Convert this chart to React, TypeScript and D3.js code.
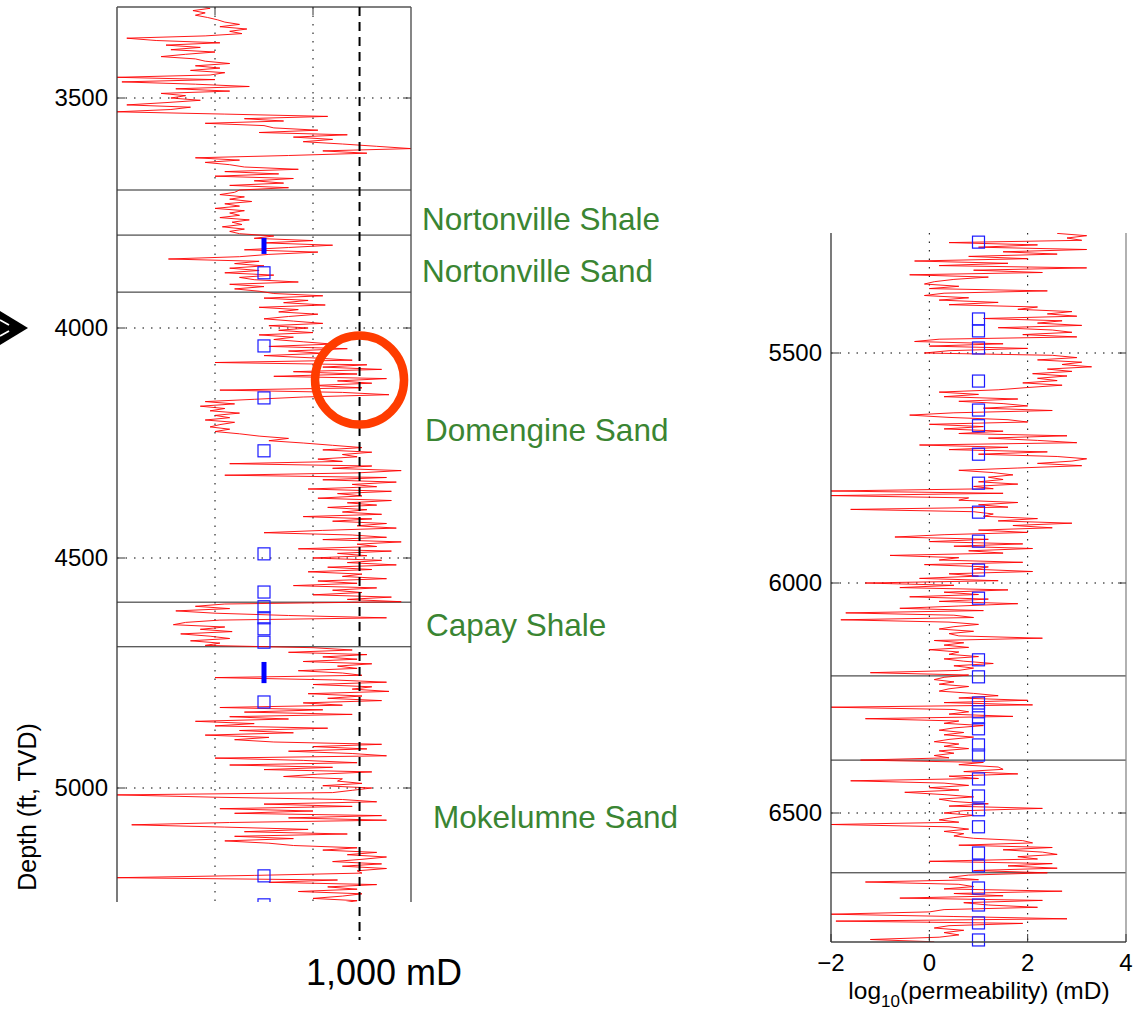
import * as d3 from "d3";

// log samples are every STEP ft, each zone array starts at its top depth
const STEP = 5;

// ---- left well (log10 permeability, mD) ----
const upperTop = 3300;
const upperLogK = [
  -0.3, -0.1, -0.45, -0.2, -0.4, -0.15, 0.05,
  0.2, 0.5, 0.1, 0.65, 0.3, 0.55,
  -0.2, -1.8, -1.2, 0.1,
  -1.0, -0.3, -0.9, 0.0, -0.6, -1.1, -0.4,
  -0.2, 0.3, -0.4, 0.1, -0.5, 0.2, -0.1,
  -2.0, 0.0, -1.9,
  -0.4, 0.7, -0.8, 0.3, -1.1,
  -0.6, -0.9, -0.3, -1.0, -1.8, -0.5, -0.9, -2.0,
  0.2, 2.3, 0.6, 1.4, -0.2, 1.0,
  1.2, 2.1, 0.9, 2.7, 1.6, 2.4, 1.8,
  2.6, 3.3, 4.0, 2.2, 3.1,
  1.5, -0.4, 0.5, -0.2, 0.3,
  0.6, 1.7, 0.2, 1.3, 0.0, 1.6, 0.8, 1.4,
  0.3, 1.5, 0.5,
];
const nortonShaleTop = 3705;
const nortonShaleLogK = [
  0.4, 0.1, 0.6, 0.3, 0.75, 0.2, 0.5, 0.0, 0.6, 0.3, 0.5, 0.1, 0.7, 0.35, 0.55,
  0.15, 0.6, 0.3, 0.5,
];
const nortonSandTop = 3800;
const nortonSandLogK = [
  1.2, 0.8, 2.0, 1.0, 2.4, 1.5, 0.6, 2.1, 1.1, 0.5, -0.95, 0.9, 0.4, 1.0, 0.3,
  0.9, 0.2, 1.2, 0.5, 0.8, 1.7, 0.3, 1.0, 0.4, 0.9,
];
const domengineTop = 3925;
const domengineLogK = [
  1.2, 2.2, 1.0, 1.9, 1.4, 2.25, 0.9, 1.7, 1.3, 2.1, 1.5, 1.0,
  1.6, 2.2, 1.1, 1.9, 1.3, 2.0, 0.9, 1.6, 1.2,
  1.8, 2.4, 1.1, 2.7, 1.5, 2.2, 1.0,
  2.0, 2.8, 0.0, 3.1, 2.2, 3.4, 1.6, 2.9, 1.2, 3.5, 2.5, 3.2, 2.0, 3.0, 0.1, 2.6, 3.55, 1.8, 0.8,
  -0.2, 0.4, -0.3, 0.2, -0.1, 0.5, 0.0, 0.3, -0.2, 0.4, 0.1, -0.1, 0.3, 0.0, 0.5,
  0.9, 1.5, 1.1, 1.8,
  2.4, 3.0, 2.2, 3.2, 2.6, 2.9, 2.1,
  2.6, 0.3, 3.2, 2.4, 3.8, 2.9, 0.2, 3.5, 2.2, 3.7, 2.8, 3.3, 1.9, 3.6, 2.5, 3.0,
  2.1, 3.6, 2.7, 3.3, 2.3, 3.1, 2.6, 3.4, 1.8, 3.2, 2.4, 3.5, 2.9, 3.7, 2.2, 1.0,
  2.8, 3.5, 2.2, 3.8, 2.9, 3.3, 1.7, 3.6, 2.5, 3.1, 2.0, 3.4, 2.7, 3.7, 2.3,
  3.2, 1.9, 3.0, 2.6, 3.5, 2.1, 2.9, 1.6, 3.3, 2.4, 3.0, 2.0, 3.6, 2.7, 3.8,
];
const capayTop = 4600;
const capayLogK = [
  0.2, -0.4, 0.3, -0.8, 0.0, 1.5, 3.5, 0.1, -0.6, -0.85, 0.2, -0.3, 0.35, -0.7,
  -0.1, 0.3, -0.5, 0.1, -0.2,
];
const mokelumneTop = 4695;
const mokelumneLogK = [
  2.0, 2.8, 1.5, 3.1, 2.2, 2.9, 1.8, 3.2, 2.5, 2.9, 1.7, 2.6, 3.0,
  0.0,
  2.4, 3.5, 2.0, 3.2, 2.8, 3.55, 1.9, 3.0, 2.3, 3.4, 1.8, 2.6,
  0.1, 2.2, 0.6, 2.8, 0.3, 1.5,
  -0.4, 0.8, 0.0, 2.3, 0.5, 1.6, -0.2, 1.1, 0.4,
  1.2, 3.4, 2.0, 3.1, 1.5, 2.8, 3.5,
  0.0, 1.8, 2.9, 0.3, 2.4, 1.0, 3.2, 2.1, 1.4, 2.6,
  2.5, 3.0, 2.2, 3.2, 2.8, 2.4,
  -2.0,
  0.0, 2.6, 3.3, 1.0, 2.8,
  0.1, 2.0, 0.4, 3.4, 1.5, 3.5,
  0.3, -1.7,
  0.2, 1.9, 0.6, 2.7, 0.4, 1.6, 0.2, 1.1,
  1.6, 2.9, 2.2, 3.3, 2.7, 3.5, 3.0, 2.4, 3.4, 2.6, 3.5, 2.9,
  3.0, 0.8, -2.0, 2.5,
  1.1, 3.3, 2.3, 2.9, 1.7, 3.0, 2.6, 2.0, 2.9, 2.6,
];

// ---- right well ----
const rightATop = 5240;
const rightALogK = [
  2.6, 3.2, 2.8, 3.1,
  0.4, 2.2, 1.0, 3.2, 1.5, 2.6, 0.8, 2.0,
  -0.3, 1.6, 0.2, 3.2, 0.9, 2.3, -0.4, 1.2, 0.5,
  0.1, -0.1, 0.6, 0.0, 2.4, 0.3, -0.1, 0.8, 0.2, 1.4, 0.4, 2.2,
  1.8, 2.9, 2.4, 3.0, 1.1, 2.7, 2.2, 3.1, 1.4, 2.5, 2.9, 1.9, 3.0,
  0.2, -0.3, 1.5, 0.0, 2.0, 0.4, -0.1,
  2.5, 3.0, 2.2, 3.1, 2.7, 3.3, 2.4, 2.9, 2.1, 2.8,
  2.2, 2.6, 1.9, 2.7, 2.0, 1.4, 0.2,
  1.0, 0.3, 1.8, 0.6, 1.5, 2.0, 1.1, 2.5, 0.5,
  -0.4, 0.4, 1.6,
  2.0, 0.0, 1.1, 0.3, 1.5, 0.6, 2.8, 1.2, 2.2, 3.0, -0.2, 1.6, 0.4, 2.4,
  1.0, 2.6, 3.2, 2.9, 2.2, 3.1, 1.8, 0.6, 1.3,
  1.7, 1.2, 1.5, 1.0, 1.8, 0.9, 1.3,
  -2.0, 1.5, -2.0, 0.8,
  0.6, 1.8, 1.0, 1.6, -1.6, 0.9, 1.3,
  1.1, 2.2, 1.4, 2.9, 1.7, 2.5, 1.0, 2.0,
  0.3, -0.7, 1.2, 0.0, 1.9, 0.5, 2.1, 0.8, 1.5,
  -0.8, 0.6, 0.2, 1.9, -0.1, 1.2, 0.9, 2.1, 0.4, 1.0, -0.2, 1.4,
  -1.3, 0.5, -0.6, 1.6, 0.3, 1.0, -0.4, 1.2,
  0.2, 1.8, 0.6, -0.6, 1.1,
  -1.7, 0.5, 0.9, -1.8, 0.4, 1.0,
  0.5, 0.2, 0.9, 0.4, 0.6, 2.3, 0.1, 0.7, 0.3, 0.8, 0.0, 0.6, 0.4, 1.0, 0.3,
  0.7, 1.3, 0.5, 0.9, 0.6, -1.2,
  0.8,
];
const rightBTop = 6205;
const rightBLogK = [
  0.3, 0.1, 0.5, 0.2, 0.8, 0.4, 0.2, 0.9, 1.4, 0.6, 2.0, 0.3, 2.1, -2.0, 0.5,
  0.8, 0.4, 1.7, -1.3, 0.6, 0.3, 1.1, 0.5, 0.2, 0.7, 0.3, 0.9, 0.4, 0.1, 0.6,
  0.3, 0.8, 0.2, 0.5, 0.1, 0.4, -1.4,
];
const rightCTop = 6390;
const rightCLogK = [
  1.1, 0.6, 1.4, 1.5, 0.7, 1.8, 0.4, 1.0, -1.6, 0.3, 0.8, 0.0, 0.6, -0.5, 0.3,
  0.9, 0.2, 0.5, 1.2, 0.4, 2.3, 0.7, 0.3, 0.9, 0.5, 0.2, 0.6, -2.0, 0.4, 0.8,
  0.3, 0.7, 0.5, 0.9, 1.9, 2.1, 0.6, 2.5, 1.5, 2.3, 2.6, 1.8, 2.2, 0.0, 2.5,
  1.6, 2.6, 0.9, 2.4,
];
const rightDTop = 6635;
const rightDLogK = [
  0.8, 0.4, 1.0, -1.3, 0.6, 0.9, 0.3, 2.7, 0.5, 1.5, -0.6, 2.3, 0.7, 1.2, 2.2,
  0.3, 0.0, -2.0, 0.5, 2.8, -1.9, 1.9, 0.4, 0.1, 0.7, 0.3, 0.6, 0.2, -1.2, 0.1,
];

// core plug samples (plotted at 10 mD)
const CORE_LOGK = 1;
const leftCoreDepths = [3880, 4039, 4152, 4267, 4491, 4574, 4606, 4630, 4654, 4683, 4813, 5191, 5254];
const leftCoreRuns = [[3804, 3839], [4726, 4772]];
const rightCoreDepths = [
  5259, 5426, 5452, 5489, 5561, 5624, 5658, 5720, 5783, 5846, 5909, 5972, 6033,
  6167, 6204, 6261, 6280, 6293, 6317, 6352, 6374, 6426, 6463, 6493, 6530, 6587,
  6615, 6663, 6700, 6739, 6776,
];

// formation tops
const leftTops = [3700, 3798, 3922, 4596, 4693];
const rightTops = [6202, 6385, 6630];
const formationNames = ["Nortonville Shale", "Nortonville Sand", "Domengine Sand", "Capay Shale", "Mokelumne Sand"];
const formationLabelDepths = [3763, 3876, 4222, 4646, 5063];

const leftTicks = [3500, 4000, 4500, 5000];
const rightTicks = [5500, 6000, 6500];
const xTicks = [-2, 0, 2, 4];
const xGrid = [0, 2];
const REF_LOGK = 2.95; // the "1,000 mD" marker as drawn
const circleDepth = 4113;

const FONT = "'Liberation Sans', Arial, Helvetica, sans-serif";

type Zone = [number, number[]];
const toPoints = (zones: Zone[]) =>
  zones.flatMap(([top, vals]) => vals.map((v, i) => [top + i * STEP, v] as [number, number]));

const leftPts = toPoints([
  [upperTop, upperLogK],
  [nortonShaleTop, nortonShaleLogK],
  [nortonSandTop, nortonSandLogK],
  [domengineTop, domengineLogK],
  [capayTop, capayLogK],
  [mokelumneTop, mokelumneLogK],
]);
const rightPts = toPoints([
  [rightATop, rightALogK],
  [rightBTop, rightBLogK],
  [rightCTop, rightCLogK],
  [rightDTop, rightDLogK],
]);

function Panel({
  id, x, y, top, bottom, pts, ticks, tops, cores, runs, border, clipCores,
}: {
  id: string;
  x: d3.ScaleLinear<number, number>;
  y: d3.ScaleLinear<number, number>;
  top: number;
  bottom: number;
  pts: [number, number][];
  ticks: number[];
  tops: number[];
  cores: number[];
  runs: number[][];
  border: { top: boolean; bottom: boolean; right: string };
  clipCores: boolean;
}) {
  const [x0, x1] = x.range();
  const line = d3
    .line<[number, number]>()
    .x((d) => x(d[1]))
    .y((d) => y(d[0]));
  const fmt = d3.format("d");
  return (
    <g>
      <defs>
        <clipPath id={id}>
          <rect x={x0} y={top} width={x1 - x0} height={bottom - top} />
        </clipPath>
      </defs>
      {/* grid */}
      {xGrid.map((v) => (
        <line key={"gx" + v} x1={x(v)} x2={x(v)} y1={top} y2={bottom} stroke="#000" strokeWidth={1} strokeDasharray="1.5,7" />
      ))}
      {ticks.map((t) => (
        <line key={"gy" + t} x1={x0} x2={x1} y1={y(t)} y2={y(t)} stroke="#000" strokeWidth={1} strokeDasharray="1.5,7" />
      ))}
      {/* formation tops */}
      {tops.map((t) => (
        <line key={"ft" + t} x1={x0} x2={x1} y1={y(t)} y2={y(t)} stroke="#222" strokeWidth={1} />
      ))}
      {/* permeability log */}
      <path d={line(pts) ?? ""} fill="none" stroke="#ff0000" strokeWidth={0.9} strokeLinejoin="round" clipPath={`url(#${id})`} />
      {/* core plugs */}
      <g clipPath={clipCores ? `url(#${id})` : undefined}>
        {cores.map((c, i) => (
          <rect key={"c" + i} x={x(CORE_LOGK) - 6} y={y(c) - 6} width={12} height={12} fill="none" stroke="#1a1aff" strokeWidth={1.2} />
        ))}
        {runs.map(([a, b], i) => (
          <line key={"r" + i} x1={x(CORE_LOGK)} x2={x(CORE_LOGK)} y1={y(a)} y2={y(b)} stroke="#0000ff" strokeWidth={5} />
        ))}
      </g>
      {/* frame */}
      <line x1={x0} x2={x0} y1={top} y2={bottom} stroke="#333" strokeWidth={1.3} />
      <line x1={x1} x2={x1} y1={top} y2={bottom} stroke={border.right} strokeWidth={1.3} />
      {border.top && <line x1={x0} x2={x1} y1={top} y2={top} stroke="#555" strokeWidth={1.3} />}
      {border.top &&
        xGrid.map((v) => (
          <line key={"tt" + v} x1={x(v)} x2={x(v)} y1={top} y2={top + 8} stroke="#333" strokeWidth={1} />
        ))}
      {border.bottom && <line x1={x0} x2={x1} y1={bottom} y2={bottom} stroke="#444" strokeWidth={1.3} />}
      {border.bottom &&
        xTicks.map((v) => (
          <g key={"bt" + v}>
            <line x1={x(v)} x2={x(v)} y1={bottom} y2={bottom - 8} stroke="#333" strokeWidth={1} />
            <text x={x(v)} y={bottom + 29} textAnchor="middle" fontSize={24} fontFamily={FONT} fill="#000">
              {fmt(v)}
            </text>
          </g>
        ))}
      {ticks.map((t) => (
        <g key={"yt" + t}>
          <line x1={x0} x2={x0 + 8} y1={y(t)} y2={y(t)} stroke="#333" strokeWidth={1} />
          <line x1={x1 - 8} x2={x1} y1={y(t)} y2={y(t)} stroke="#333" strokeWidth={1} />
          <text x={x0 - 9} y={y(t)} dy="0.35em" textAnchor="end" fontSize={24} fontFamily={FONT} fill="#000">
            {fmt(t)}
          </text>
        </g>
      ))}
    </g>
  );
}

export default function App() {
  const width = 1137;
  const height = 1012;

  const xL = d3.scaleLinear().domain([-2, 4]).range([117, 411]);
  const yL = d3.scaleLinear().domain([3500, 5000]).range([98, 788]);
  const xR = d3.scaleLinear().domain([-2, 4]).range([831, 1126]);
  const yR = d3.scaleLinear().domain([5500, 6500]).range([353, 813]);

  const lTop = 7, lBottom = 902;
  const rTop = 233, rBottom = 942;
  const labelX = [422, 422, 425, 426, 433];

  return (
    <svg
      width={width}
      height={height}
      style={{ position: "absolute", left: 0, top: 0, background: "#fff" }}
    >
      <rect width={width} height={height} fill="#fff" />

      <Panel
        id="clipL"
        x={xL}
        y={yL}
        top={lTop}
        bottom={lBottom}
        pts={leftPts}
        ticks={leftTicks}
        tops={leftTops}
        cores={leftCoreDepths}
        runs={leftCoreRuns}
        border={{ top: true, bottom: false, right: "#444" }}
        clipCores={true}
      />
      {/* 1,000 mD reference */}
      <line x1={xL(REF_LOGK)} x2={xL(REF_LOGK)} y1={lTop} y2={940} stroke="#000" strokeWidth={2} strokeDasharray="9,6" />
      <text x={384} y={985} textAnchor="middle" fontSize={36} fontFamily={FONT} fill="#000">
        1,000 mD
      </text>
      {/* highlight */}
      <circle cx={xL(REF_LOGK)} cy={yL(circleDepth)} r={44.5} fill="none" stroke="#ff3c00" strokeWidth={8.5} />

      <text
        transform={`translate(36,807) rotate(-90)`}
        textAnchor="middle"
        fontSize={25}
        fontFamily={FONT}
        fill="#000"
      >
        Depth (ft, TVD)
      </text>

      {/* arrow marker */}
      <polygon points="0,311 28,328 0,345" fill="#000" />
      <line x1={0} y1={320} x2={9} y2={325} stroke="#fff" strokeWidth={1.8} />
      <line x1={0} y1={336} x2={9} y2={331} stroke="#fff" strokeWidth={1.8} />

      {formationNames.map((n, i) => (
        <text
          key={n}
          x={labelX[i]}
          y={yL(formationLabelDepths[i])}
          dy="0.35em"
          fontSize={31.5}
          fontFamily={FONT}
          fill="#3a8532"
        >
          {n}
        </text>
      ))}

      <Panel
        id="clipR"
        x={xR}
        y={yR}
        top={rTop}
        bottom={rBottom}
        pts={rightPts}
        ticks={rightTicks}
        tops={rightTops}
        cores={rightCoreDepths}
        runs={[]}
        border={{ top: false, bottom: true, right: "#888" }}
        clipCores={false}
      />
      <text x={979} y={999} textAnchor="middle" fontSize={24.5} fontFamily={FONT} fill="#000">
        log
        <tspan dy={8} fontSize={17}>10</tspan>
        <tspan dy={-8}>(permeability) (mD)</tspan>
      </text>
    </svg>
  );
}
